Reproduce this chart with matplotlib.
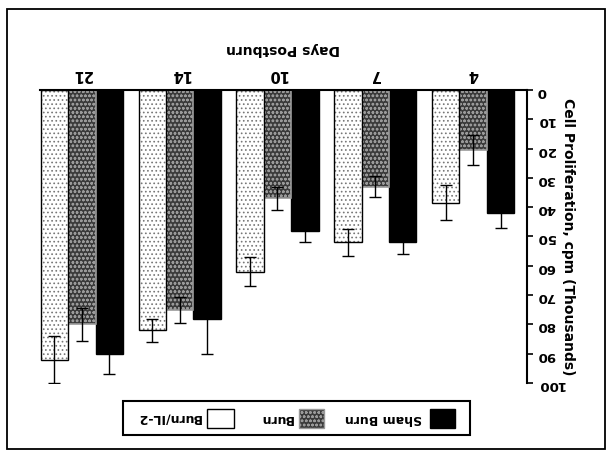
import matplotlib
matplotlib.use('Agg')
import matplotlib.pyplot as plt
from matplotlib.patches import Rectangle
import numpy as np

plt.rcParams['font.family'] = ['Liberation Sans Narrow', 'DejaVu Sans']
plt.rcParams['hatch.linewidth'] = 0.7

days = ['4', '7', '10', '14', '21']
sham = [42, 52, 48, 78, 90]
sham_err = [5, 4, 4, 12, 7]
burn = [20.5, 33, 37, 75, 80]
burn_err = [5, 3.5, 4, 4.5, 5.5]
il2 = [38.5, 52, 62, 82, 92]
il2_err = [6, 4.5, 5, 4, 8]

fig = plt.figure(figsize=(6.12, 4.61), dpi=100)
ax = fig.add_axes([0.065, 0.169, 0.796, 0.636])

x = np.arange(len(days))
w = 0.28
ekw = dict(ecolor='black', capsize=4, elinewidth=1, capthick=1)

ax.bar(x - w, sham, w, yerr=sham_err, color='black', edgecolor='black',
       error_kw=ekw, label='Sham Burn')
ax.bar(x, burn, w, yerr=burn_err, color='#3a3a3a', edgecolor='#9a9a9a',
       hatch='oooo', linewidth=1.2, error_kw=ekw, label='Burn')
# fine stipple first, then the outline and error bars
ax.bar(x + w, il2, w, color='white', edgecolor='#777777', hatch='....', linewidth=0)
ax.bar(x + w, il2, w, yerr=il2_err, fill=False, edgecolor='black',
       linewidth=1.0, error_kw=ekw, label='Burn/IL-2')

# the whole chart is upside down
ax.set_xlim(4.43, -0.55)
ax.set_ylim(100, 0)
ax.set_yticks(range(0, 101, 10))
ax.set_xticks(x)
ax.set_xticklabels(days)

ax.xaxis.tick_top()
ax.xaxis.set_label_position('top')
ax.yaxis.tick_right()
ax.yaxis.set_label_position('right')
ax.tick_params(axis='x', length=0, pad=6, labelsize=10.5, labelrotation=180)
ax.tick_params(axis='y', length=4, width=1.2, pad=3, labelsize=9.5, labelrotation=180)
for t in ax.get_xticklabels() + ax.get_yticklabels():
    t.set_fontweight('bold')

ax.spines['left'].set_visible(False)
ax.spines['bottom'].set_visible(False)
ax.spines['right'].set_linewidth(1.5)
ax.spines['top'].set_linewidth(1.5)

ax.set_xlabel('Days Postburn', rotation=180, fontsize=10, fontweight='bold', labelpad=10)
ax.set_ylabel('Cell Proliferation, cpm (Thousands)', rotation=270, fontsize=10,
              fontweight='bold', labelpad=8)

# legend box, drawn upside down
W, H = 612, 461
def fx(px):
    return px / W
def fy(py):
    return 1 - py / H

fig.patches.append(Rectangle((fx(123), fy(435)), fx(470) - fx(123), fy(401) - fy(435),
                             transform=fig.transFigure, fill=False, edgecolor='black', lw=1.5))
fig.patches.append(Rectangle((fx(430), fy(428)), fx(455) - fx(430), fy(409) - fy(428),
                             transform=fig.transFigure, facecolor='black', edgecolor='black', lw=1))
fig.patches.append(Rectangle((fx(299), fy(428)), fx(324) - fx(299), fy(409) - fy(428),
                             transform=fig.transFigure, facecolor='#3a3a3a', edgecolor='#9a9a9a',
                             hatch='oooo', lw=1))
fig.patches.append(Rectangle((fx(207), fy(428)), fx(234) - fx(207), fy(409) - fy(428),
                             transform=fig.transFigure, facecolor='white', edgecolor='black', lw=1))
fig.text(fx(422), fy(418), 'Sham Burn', rotation=180, ha='right', va='center',
         fontsize=9, fontweight='bold')
fig.text(fx(293), fy(418), 'Burn', rotation=180, ha='right', va='center',
         fontsize=9, fontweight='bold')
fig.text(fx(201), fy(418), 'Burn/IL-2', rotation=180, ha='right', va='center',
         fontsize=9, fontweight='bold')

# outer frame
fig.patches.append(Rectangle((fx(7), fy(449)), fx(605) - fx(7), fy(9) - fy(449),
                             transform=fig.transFigure, fill=False, edgecolor='black', lw=1.3))

fig.savefig('out.png', dpi=100)
